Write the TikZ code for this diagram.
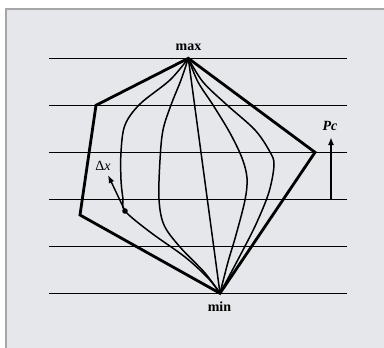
\documentclass[tikz,border=0pt]{standalone}
\usepackage{fontspec}
\setmainfont{Liberation Serif}
\usetikzlibrary{arrows.meta}
\definecolor{panel}{HTML}{E6E7EA}
\definecolor{frame}{HTML}{A6A6A6}
\tikzset{
  grid line/.style={line width=1.2pt,black},
  hull/.style={line width=2.8pt,black,line join=miter},
  path curve/.style={line width=1.5pt,black},
  lbl/.style={font=\bfseries\fontsize{14}{16}\selectfont,inner sep=0pt},
  arr/.style={line width=1.6pt,-{Latex[length=8pt,width=6pt]}}
}
\begin{document}
\begin{tikzpicture}[x=1pt,y=-1pt]
\useasboundingbox (0,0) rectangle (384,348);
\fill[white] (0,0) rectangle (384,348);
\filldraw[fill=panel,draw=frame,line width=1.2pt] (6,9) rectangle (390,355);
% horizontal lines
\foreach \i/\y in {1/58.3,2/105.3,3/152.3,4/199.3,5/246.3,6/293.3}{
  \coordinate (L\i) at (49,\y);
  \coordinate (R\i) at (347,\y);
  \draw[grid line] (L\i) -- (R\i);
}
\coordinate (max) at (188.3,58.3);
\coordinate (min) at (220,293.3);
\coordinate (p1) at (96,105.3);
\coordinate (p2) at (80,215);
\coordinate (p3) at (315,152.3);
% hull
\draw[hull] (max) -- (p1) -- (p2) -- (min) -- (p3) -- cycle;
% curves
\draw[path curve] plot[smooth,tension=0.55] coordinates {(188.3,58.3) (170,80) (140,104) (125,125) (121,152) (121,180) (123,199) (125,211) (150,232) (185,257) (208,278) (220,293.3)};
\draw[path curve] plot[smooth,tension=0.55] coordinates {(188.3,58.3) (181,80) (171,105) (163,130) (160,160) (159,199) (164,225) (180,247) (205,273) (220,293.3)};
\draw[path curve] (max) -- (min);
\draw[path curve] plot[smooth,tension=0.55] coordinates {(188.3,58.3) (198,82) (213,105) (230,133) (242,158) (247,178) (245,200) (236,235) (228,262) (220,293.3)};
\draw[path curve] plot[smooth,tension=0.55] coordinates {(188.3,58.3) (203,82) (227,105) (255,130) (270,152) (274,165) (269,192) (257,222) (243,250) (220,293.3)};
% labels
\node[lbl,anchor=base] (maxl) at (188.5,50) {max};
\node[lbl,anchor=base] (minl) at (219.5,312) {min};
\node[lbl,anchor=base,font=\bfseries\itshape\fontsize{14}{16}\selectfont] (pc) at (330,131) {Pc};
\node[inner sep=0pt,anchor=base,font=\fontsize{14}{16}\selectfont] (dx) at (103,171) {Δ\textit{x}};
% arrows
\coordinate (pcb) at (331,199.3);
\coordinate (pct) at (331,137);
\draw[arr] (pcb) -- (pct);
\coordinate (dot) at (125,211);
\coordinate (dxt) at (108,175);
\fill (dot) circle (2.8pt);
\draw[arr,line width=1.4pt] (dot) -- (dxt);
\end{tikzpicture}
\end{document}
